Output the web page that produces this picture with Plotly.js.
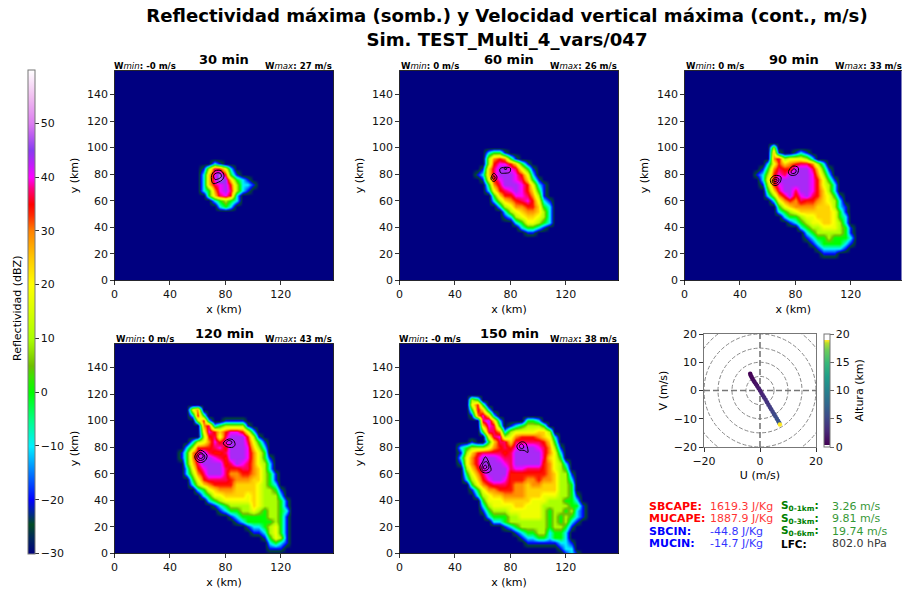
<!DOCTYPE html>
<html><head><meta charset="utf-8">
<script src="https://cdn.plot.ly/plotly-3.0.1.min.js"></script>
<style>html,body{margin:0;padding:0;background:#fff;overflow:hidden}#g{width:902px;height:592px}</style>
</head><body><div id="g"></div>
<script>
// dBZ value behind each letter used in the reflectivity rows
const levelCodes = {'.':-30,a:-20,b:-10,c:0,d:10,e:18,f:24,g:29,h:34,i:37,j:40,k:43.5,l:49};
const gridStepKm = 4, firstColKm = 40;

const refl030Top = 88;
const refl030Rows = [
"........ba",
"......adiheb",
"......bfjlhca",
"......bfjlkfcba",
"......bfijkhdbba",
"......bcgjkidba",
".......cfijhb",
"........bcdcb",
".........bcb"];

const refl060Top = 96;
const refl060Rows = [
"......bcca",
"......dghgca",
"......dhjjhfca",
".....afikkjieca",
"....abfikkkjheb",
".....aehjkkjifca",
"......cgikkkjheba",
"......behijkjhfca",
".......cfhhjjigda",
".......bdfghijheba",
"........bdegghhfcb",
".........bdefggfdb",
".........abdeffedb",
"...........bceedcb",
"............bccba",
".............aa"];

const refl090Top = 100;
const refl090Rows = [
"......d",
"......fa..aba",
"......gideeedb",
".....behfghiigdb",
"....acgihhkkkifca",
"...abdhjikkkkjgdb",
"....behkkkkkkjheca",
"....adhjkkkkkjhedb",
".....cfikkikkjhfdb",
".....bdgikhjkihfeca",
"......beghgihhgfedb",
".......cefggggfffdba",
".......bcdeffffffeca",
"........bccdeefffecb",
".........abcdeeffedb",
"...........bcddeeedca",
"............bcdddddca",
"............abccdcccb",
".............abccccba",
"..............abbbba",
"...............aaa"];

const refl120Top = 108;
const refl120Rows = [
"....eg",
"....bhc",
".....dhb..aaaa",
"......gibcdddda",
"......ejhfhjjheb",
"......dhieikkkhda",
"....bdegjhjkkkieca",
"...bdhhhijhkkkjfdb",
"..acgikihhikkkjgec",
"..acgjkkjihkkkjgeca",
"...cfikkkkhikjigedb",
"...behjkkkihhiigfdb",
"...bdgikkkigghhgfdca",
"....cehiiiihgggffdca",
"....bdfghhhhffffedcb",
".....bcefgggffffeddca",
"......bceeffffefedddb",
".......bcdeeeeefedddca",
"........abcddddfedddca",
".........abccddedcddcb",
"...........abcccccddca",
"............abcccccdca",
"..............abbcdeca",
"...............aabdeca",
".................aceda",
"..................bcba",
"..................aaa"];

const refl150Top = 116;
const refl150Rows = [
"...dc",
"...ehc",
"...cifb",
"...agjfb",
".....ikfb....ccb",
".....fjic.abcdddc",
".....ciigbdeeeeffd",
"......eijdeghhhgfeb",
"...a..cfiifiiiiihfc",
".bcdddeghihjkkkjigda",
".adfhiiiihikkkkkigeb",
".begikkkjiikkkkkifec",
".aegikkkkjikkkkkhgedb",
"..dfhjkkkkijjiiihgedc",
"..cegikkkkhhhhhhhgfdda",
"..bdfhjkkjhhhgghggfddb",
"...ceghiiihggfggfffddc",
"...acegghhhggffffffddc",
"....bdeffggggfffeeeddca",
".....ceeefffffeeedddccb",
".....bdeeeeffeeedddddcca",
".....acdddeeeeeedcddcdba",
"......bcccddeeeedcdcdcba",
".......bbcdddddddcdcdba",
".........abcdddddcddca",
"...........abccddbccb",
"............abbccbccb",
".............aaaaaabba",
"...................abb",
"....................aba"];

// W contour rings, km
const rings030 = [
 {x:[70,72.5,77,79,78,75,71,70], y:[79,82.5,82.5,79,76,74,73,79]},
 {x:[71.5,74,76.5,77,75,72.5,71.5], y:[79,81,80.5,78,76.5,76,79]}];
const rings060 = [
 {x:[66,68,70.3,69.5,68,66.5,66], y:[77,80.7,78,75.5,74.5,75.5,77]},
 {x:[67,68,69,68.5,67.5,67], y:[77.5,78.7,77.5,76.5,76.2,77.5]},
 {x:[72.5,76,80,79.5,76,73,72.5], y:[84,85.2,84.5,81.5,80.7,81,84]},
 {x:[75.5,77,77.5,76,75.5], y:[84.5,84.8,84,83.5,84.5]}];
const rings090 = [
 {x:[62,65,69.5,69,66,63,62], y:[76,79,78,74,71.5,72.5,76]},
 {x:[63.5,65.5,68,67.5,65.5,63.5,63.5], y:[75.5,77.5,76.5,74,73,73.8,75.5]},
 {x:[64.5,66,67,66,64.5,64.5], y:[75.5,76.3,75.5,74.5,74.5,75.5]},
 {x:[75,78,82,81.5,78.5,75.5,75], y:[82,86,85,80.5,79,80,82]},
 {x:[77,79,80.5,80,78,77,77], y:[82,84,83,81,80.5,81,82]}];
const rings120 = [
 {x:[58,62,66.7,65.5,62,59,58], y:[73.5,77.7,74,70,68.4,70,73.5]},
 {x:[59.5,62,65,64.5,62,60,59.5], y:[73.5,76,73.5,71,70,71,73.5]},
 {x:[60.5,62.5,64,63.5,62,61,60.5], y:[73.5,75,73.5,72,71.5,72,73.5]},
 {x:[78.5,82,85.5,87,85.5,81,78.5], y:[83,86,85.5,82,80,80.3,83]},
 {x:[80.6,82.5,84.7,84,81.5,80.6], y:[83.5,85,84,82.3,82,83.5]}];
const rings150 = [
 {x:[58,60,62,65,66,63,59.5,58], y:[65,69,72.7,67,62.5,60.6,61.5,65]},
 {x:[59.5,61,63,64.5,62.5,60,59.5], y:[65,68.5,69,64.5,62.5,62.5,65]},
 {x:[60.5,62,63,62,60.8,60.5], y:[65,66.5,65,63.8,63.8,65]},
 {x:[84.7,88,91,92.6,90,86,84.7], y:[81,84,83,76,77.5,78,81]},
 {x:[86.5,88,89.5,89.5,87.5,86.5], y:[81,82.5,81,79.5,79,81]}];

// hodograph
const hodoU = [-3.9,-3.8,-3.7,-3.5,-3.3,-3,-2.7,-2.3,-1.9,-1.4,-1,-0.5,0,0.5,1,1.5,2,2.5,3,3.5,4,4.5,5,5.5,6,6.5,6.9,7.1];
const hodoV = [7.9,7.3,6.6,5.9,5.3,4.8,4.2,3.5,2.9,2.2,1.6,0.8,0,-0.9,-1.7,-2.5,-3.3,-4.2,-5,-5.8,-6.6,-7.5,-8.3,-9.1,-10,-10.8,-11.5,-12];
const hodoH = [0.1,0.2,0.3,0.4,0.5,0.7,0.8,1,1.2,1.4,1.6,1.9,2.1,2.4,2.7,3,3.3,3.6,3.9,4.2,4.5,4.8,5.1,5.4,5.7,6,6.3,18.8];
const hodoRadii = [5,10,15,20,25];

const zTicks = [-30,-20,-10,0,10,20,30,40,50];
const hodoHeightTicks = [0,5,10,15,20];
const panelTitles = ['30 min','60 min','90 min','120 min','150 min'];
const wMinLabels = ['-0','0','0','0','-0'];
const wMaxLabels = ['27','26','33','43','38'];

const FONT = 'DejaVu Sans, sans-serif';
const W=902, H=592, FS=11, TICK='#111';
const zMin=-30, zMax=60;
const reflStops = [[-30,'rgb(0,0,128)'],[-27,'rgb(0,40,90)'],[-24.5,'rgb(0,75,35)'],[-22.5,'rgb(0,40,140)'],[-20,'rgb(0,0,255)'],[-15,'rgb(0,120,255)'],[-10,'rgb(0,240,255)'],[-5,'rgb(0,255,130)'],[0,'rgb(0,255,0)'],[3,'rgb(60,225,0)'],[5,'rgb(110,190,0)'],[8,'rgb(150,230,0)'],[10,'rgb(170,255,0)'],[15,'rgb(215,255,0)'],[20,'rgb(255,255,0)'],[25,'rgb(255,200,0)'],[30,'rgb(255,130,0)'],[33,'rgb(255,40,0)'],[35,'rgb(255,0,0)'],[38,'rgb(255,0,130)'],[40,'rgb(255,0,255)'],[42.5,'rgb(190,30,250)'],[45,'rgb(135,60,240)'],[48,'rgb(190,95,240)'],[50,'rgb(220,125,240)'],[55,'rgb(240,190,240)'],[60,'rgb(255,255,255)']];
const reflScale = reflStops.map(s=>[(s[0]-zMin)/(zMax-zMin),s[1]]);
const hodoScale = [[0,'#ffffff'],[0.02,'#ffffff'],[0.02,'#440154'],[0.14,'#482878'],[0.26,'#3e4989'],[0.38,'#31688e'],[0.5,'#26828e'],[0.62,'#1f9e89'],[0.74,'#35b779'],[0.86,'#6ece58'],[0.92,'#b5de2b'],[0.94,'#fde725'],[0.95,'#fde725'],[0.95,'#ffffff'],[1,'#ffffff']];

function buildGrid(rows,top){
  const n=41, z=[];
  for(let j=0;j<n;j++){
    const yk=j*gridStepKm, row=new Array(n).fill(zMin);
    const r=(top-yk)/gridStepKm;
    if(r>=0&&r<rows.length){
      const s=rows[r];
      for(let c=0;c<s.length;c++){ row[(firstColKm/gridStepKm)+c]=levelCodes[s[c]]; }
    }
    z.push(row);
  }
  return z;
}
const gridAxis = Array.from({length:41},(_,i)=>i*gridStepKm);

const panels = [
 {rows:refl030Rows,top:refl030Top,rings:rings030,px:[114.5,333.5],py:[70.5,280.5]},
 {rows:refl060Rows,top:refl060Top,rings:rings060,px:[399.5,618.5],py:[70.5,280.5]},
 {rows:refl090Rows,top:refl090Top,rings:rings090,px:[684.5,902],py:[70.5,280.5]},
 {rows:refl120Rows,top:refl120Top,rings:rings120,px:[114.5,333.5],py:[343.5,553.5]},
 {rows:refl150Rows,top:refl150Top,rings:rings150,px:[399.5,618.5],py:[343.5,553.5]}];

const traces=[], layout={
  width:W,height:H,margin:{l:0,r:0,t:0,b:0},paper_bgcolor:'#fff',plot_bgcolor:'#fff',
  font:{family:FONT,size:FS,color:'#000'},showlegend:false,
  title:{text:'<b>Reflectividad máxima (somb.) y Velocidad vertical máxima (cont., m/s)</b><br><b>Sim. TEST_Multi_4_vars/047</b>',x:507/W,xanchor:'center',y:0.962,yanchor:'top',font:{size:18.1,family:FONT,color:'#000'}},
  annotations:[],shapes:[]
};
const axisBase={showgrid:false,zeroline:false,showline:true,mirror:true,linecolor:'#000',linewidth:0.8,ticks:'outside',ticklen:3.5,tickwidth:0.8,tickcolor:'#000',tickfont:{size:FS,family:FONT,color:TICK},fixedrange:true};
function ann(o){layout.annotations.push(Object.assign({xref:'paper',yref:'paper',showarrow:false,xanchor:'left',yanchor:'middle',font:{family:FONT,size:FS,color:'#000'}},o));}
const fx=p=>p/W, fy=p=>1-p/H;

panels.forEach((p,i)=>{
  const n=i+1, xa='x'+(n===1?'':n), ya='y'+(n===1?'':n);
  const xk='xaxis'+(n===1?'':n), yk='yaxis'+(n===1?'':n);
  const t={type:'heatmap',x:gridAxis,y:gridAxis,z:buildGrid(p.rows,p.top),xaxis:xa,yaxis:ya,zmin:zMin,zmax:zMax,colorscale:reflScale,zsmooth:'best',hoverinfo:'skip',showscale:i===0};
  if(i===0){t.colorbar={lenmode:'pixels',len:483.5,thicknessmode:'pixels',thickness:7,x:fx(28),xanchor:'left',y:fy(553.5),yanchor:'bottom',xpad:0,ypad:0,tickmode:'array',tickvals:zTicks,ticks:'outside',ticklen:3.5,tickwidth:0.8,tickcolor:'#000',tickfont:{size:FS,family:FONT,color:TICK},outlinecolor:'#777',outlinewidth:1,borderwidth:0};}
  traces.push(t);
  p.rings.forEach(r=>traces.push({type:'scatter',mode:'lines',x:r.x,y:r.y,xaxis:xa,yaxis:ya,line:{color:'#000',width:1,shape:'spline'},hoverinfo:'skip'}));
  layout[xk]=Object.assign({},axisBase,{domain:[fx(p.px[0]),fx(p.px[1])],range:[0,(p.px[1]-p.px[0])/1.386],tickmode:'array',tickvals:[0,40,80,120],anchor:ya,title:{text:'x (km)',font:{size:FS,family:FONT,color:'#000'},standoff:5}});
  layout[yk]=Object.assign({},axisBase,{domain:[fy(p.py[1]),fy(p.py[0])],range:[0,158],tickmode:'array',tickvals:[0,20,40,60,80,100,120,140],anchor:xa,title:{text:'y (km)',font:{size:FS,family:FONT,color:'#000'},standoff:6}});
  const mid=(p.px[0]+219/2);
  ann({x:fx(mid),y:fy(p.py[0]-10.5),xanchor:'center',text:'<b>'+panelTitles[i]+'</b>',font:{family:FONT,size:13,color:'#000'}});
  ann({x:fx(p.px[0]+(wMinLabels[i]==='-0'?-3:-0.5)),y:fy(p.py[0]-5),text:'<b>W</b><i>min</i><b>: '+wMinLabels[i]+' m/s</b>',font:{family:FONT,size:8.6,color:'#000'}});
  ann({x:fx(p.px[0]+219.5),y:fy(p.py[0]-5),xanchor:'right',text:'<b>W</b><i>max</i><b>: '+wMaxLabels[i]+' m/s</b>',font:{family:FONT,size:8.6,color:'#000'}});
});

// colorbar title
ann({x:fx(17),y:fy(309),xanchor:'center',yanchor:'middle',textangle:-90,text:'Reflectividad (dBZ)'});

// hodograph
traces.push({type:'scatter',mode:'markers',x:hodoU,y:hodoV,xaxis:'x6',yaxis:'y6',hoverinfo:'skip',
  marker:{size:4.5,color:hodoH,cmin:0,cmax:20,colorscale:hodoScale,line:{width:0},symbol:'circle',showscale:true,
    colorbar:{lenmode:'pixels',len:113,thicknessmode:'pixels',thickness:6,x:fx(824),xanchor:'left',y:fy(447),yanchor:'bottom',xpad:0,ypad:0,tickmode:'array',tickvals:hodoHeightTicks,ticks:'outside',ticklen:3.5,tickwidth:0.8,tickfont:{size:FS,family:FONT,color:TICK},outlinecolor:'#777',outlinewidth:1}}});
const hodoAxis={showgrid:false,zeroline:false,showline:true,mirror:true,linecolor:'#777',linewidth:1.3,ticks:'outside',ticklen:3.5,tickwidth:0.8,tickcolor:'#000',tickfont:{size:FS,family:FONT,color:TICK},fixedrange:true,range:[-20,20],tickmode:'array',tickvals:[-20,0,20]};
layout.xaxis6=Object.assign({},hodoAxis,{domain:[fx(704),fx(816)],anchor:'y6',title:{text:'U (m/s)',font:{size:FS,family:FONT,color:'#000'},standoff:4}});
layout.yaxis6=Object.assign({},hodoAxis,{domain:[fy(447),fy(334)],anchor:'x6',tickvals:[-20,-10,0,10,20],title:{text:'V (m/s)',font:{size:FS,family:FONT,color:'#000'},standoff:4}});
hodoRadii.forEach(r=>layout.shapes.push({type:'circle',xref:'x6',yref:'y6',x0:-r,x1:r,y0:-r,y1:r,line:{color:'#888',width:1,dash:'4px,2px'},layer:'below'}));
layout.shapes.push({type:'line',xref:'x6',yref:'y6',x0:-20,x1:20,y0:0,y1:0,line:{color:'#777',width:1.6,dash:'6px,3px'},layer:'below'});
layout.shapes.push({type:'line',xref:'x6',yref:'y6',x0:0,x1:0,y0:-20,y1:20,line:{color:'#777',width:1.6,dash:'6px,3px'},layer:'below'});
ann({x:fx(859),y:fy(390.5),xanchor:'center',textangle:-90,text:'Altura (km)'});

// sounding text
const soundLabels=[['SBCAPE:','1619.3 J/Kg','#ff0000'],['MUCAPE:','1887.9 J/Kg','#ff0000'],['SBCIN:','-44.8 J/Kg','#0000ff'],['MUCIN:','-14.7 J/Kg','#0000ff']];
const shearLabels=[['S<sub>0-1km</sub>:','3.26 m/s','#008000'],['S<sub>0-3km</sub>:','9.81 m/s','#008000'],['S<sub>0-6km</sub>:','19.74 m/s','#008000'],['LFC:','802.0 hPa','#000000']];
const rowY=[506,518.5,531,543.5];
soundLabels.forEach((r,i)=>{
  ann({x:fx(646.5),y:fy(rowY[i]),text:'<b>'+r[0]+'</b>',font:{family:FONT,size:11,color:r[2]}});
  ann({x:fx(708),y:fy(rowY[i]),text:r[1],opacity:0.8,font:{family:FONT,size:11,color:r[2]}});
});
shearLabels.forEach((r,i)=>{
  ann({x:fx(779),y:fy(rowY[i]),text:'<b>'+r[0]+'</b>',font:{family:FONT,size:10.5,color:r[2]}});
  ann({x:fx(830),y:fy(rowY[i]),text:r[1],opacity:0.8,font:{family:FONT,size:11,color:r[2]}});
});

Plotly.newPlot('g',traces,layout,{displayModeBar:false,staticPlot:true});
</script></body></html>
